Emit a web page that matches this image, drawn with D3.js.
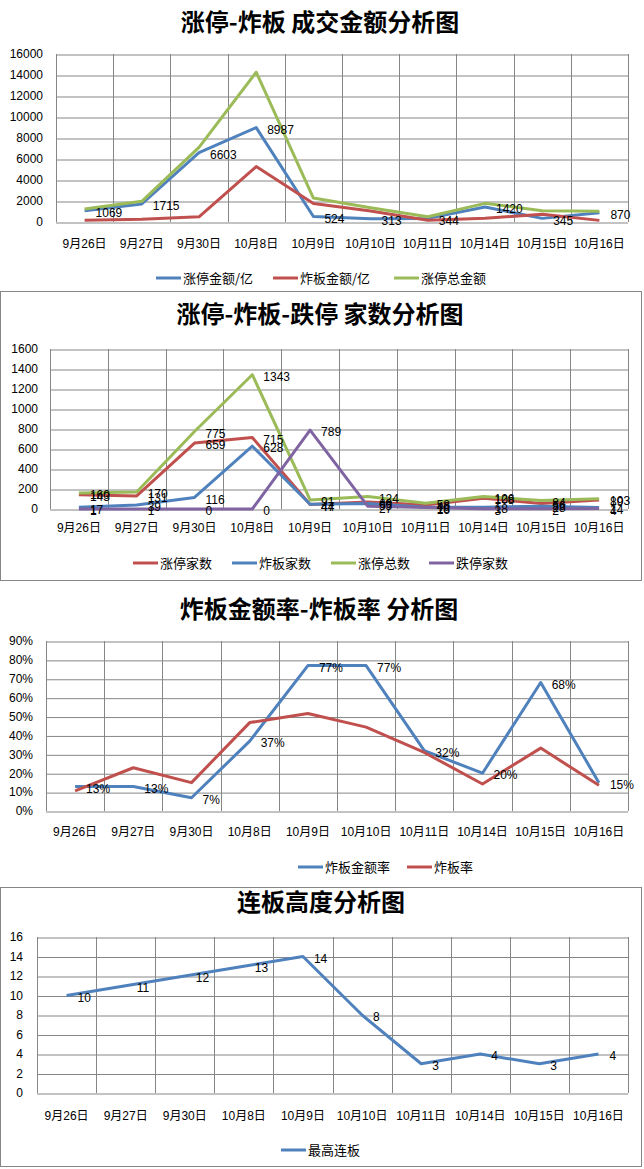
<!DOCTYPE html>
<html><head><meta charset="utf-8">
<script src="https://cdn.jsdelivr.net/npm/d3@7"></script>
<style>
body{margin:0;background:#fff;}
svg{display:block;}
text{font-family:"Liberation Sans","Noto Sans CJK SC",sans-serif;fill:#000;}
.title{font-family:"Noto Sans CJK SC",sans-serif;font-weight:bold;font-size:24px;}
</style></head>
<body>
<svg id="c" width="644" height="1169"></svg>
<script>
const categories = ["9月26日","9月27日","9月30日","10月8日","10月9日","10月10日","10月11日","10月14日","10月15日","10月16日"];

// Chart 1: 成交金额 (亿)
const ztAmount   = [1069, 1715, 6603, 8987, 524, 313, 344, 1420, 345, 870];
const zbAmount   = [160, 256, 497, 5278, 1754, 1047, 162, 355, 733, 154];
const ztTotalAmt = [1229, 1971, 7100, 14265, 2278, 1360, 506, 1775, 1078, 1024];
const amtTicks = [0,2000,4000,6000,8000,10000,12000,14000,16000];

// Chart 2: 家数
const ztCount    = [143, 131, 659, 715, 44, 69, 40, 108, 56, 89];
const zbCount    = [17, 39, 116, 628, 47, 55, 18, 18, 28, 14];
const ztTotalCnt = [160, 170, 775, 1343, 91, 124, 58, 126, 84, 103];
const dtCount    = [1, 1, 0, 0, 789, 27, 16, 3, 2, 4];
const cntTicks = [0,200,400,600,800,1000,1200,1400,1600];

// Chart 3: 比率 (%)
const zbAmtRate = [13, 13, 7, 37, 77, 77, 32, 20, 68, 15];
const zbRate    = [10.6, 22.9, 15.0, 46.8, 51.6, 44.4, 31.0, 14.3, 33.3, 13.6];
const rateTicks = [0,10,20,30,40,50,60,70,80,90];

// Chart 4: 最高连板
const maxBoard = [10, 11, 12, 13, 14, 8, 3, 4, 3, 4];
const boardTicks = [0,2,4,6,8,10,12,14,16];

const BLUE="#4F81BD", RED="#C0504D", GREEN="#9BBB59", PURPLE="#8064A2";
const GRID="#868686";
const svg = d3.select("#c");

function drawChart(o){
  const g = svg.append("g");
  g.append("text").attr("class","title").attr("x",o.titleX).attr("y",o.titleY)
    .attr("text-anchor","middle").text(o.title);
  const x = d3.scaleBand().domain(categories).range([o.left,o.right]).padding(0);
  const y = d3.scaleLinear().domain([0,o.max]).range([o.bottom,o.top]);
  const cx = c => x(c)+x.bandwidth()/2;
  // horizontal grid + y labels
  const ya = d3.axisLeft(y).tickValues(o.ticks).tickSize(-(o.right-o.left)).tickPadding(0)
    .tickFormat(o.tickFmt || (d=>d));
  const yg = g.append("g").attr("transform",`translate(${o.left},0)`).call(ya);
  yg.select(".domain").remove();
  yg.selectAll(".tick line").attr("stroke",GRID).attr("stroke-width",1)
    .attr("transform","translate(0,0.5)");
  yg.selectAll(".tick text").attr("x",o.yLabelX-o.left).attr("font-size",12)
    .style("font-family",'"Liberation Sans",sans-serif').attr("fill","#000");
  // vertical grid
  const bounds = categories.map(c=>x(c)).concat([o.right]);
  g.append("g").selectAll("line").data(bounds).join("line")
    .attr("x1",d=>Math.round(d)+0.5).attr("x2",d=>Math.round(d)+0.5)
    .attr("y1",o.top).attr("y2",o.bottom).attr("stroke",GRID).attr("stroke-width",1);
  // x labels
  const xa = d3.axisBottom(x).tickSize(0).tickPadding(0);
  const xg = g.append("g").attr("transform",`translate(0,${o.bottom})`).call(xa);
  xg.select(".domain").remove();
  xg.selectAll(".tick text").attr("y",o.xLabelDy).attr("dy","0.35em").attr("font-size",12)
    .style("font-family",'"Liberation Sans","Noto Sans CJK SC",sans-serif').attr("fill","#000");
  // lines
  o.series.forEach(s=>{
    const line = d3.line().x((d,i)=>cx(categories[i])).y(d=>y(d));
    g.append("path").datum(s.values).attr("d",line).attr("fill","none")
      .attr("stroke",s.color).attr("stroke-width",3).attr("stroke-linejoin","round");
  });
  // labels
  o.series.filter(s=>s.labels).forEach(s=>{
    g.append("g").selectAll("text").data(s.values).join("text")
      .attr("x",(d,i)=>cx(categories[i])+11).attr("y",d=>y(d)+2).attr("dy","0.35em")
      .attr("font-size",12).text(d=>s.fmt ? s.fmt(d) : d);
  });
  // legend
  o.series.forEach((s,i)=>{
    const lx = o.legendX[i];
    g.append("line").attr("x1",lx).attr("x2",lx+25).attr("y1",o.legendY).attr("y2",o.legendY)
      .attr("stroke",s.color).attr("stroke-width",3);
    g.append("text").attr("x",lx+27).attr("y",o.legendY).attr("dy","0.35em")
      .attr("font-size",13).style("font-family",'"Noto Sans CJK SC",sans-serif').text(s.name);
  });
}

// panel borders
svg.append("rect").attr("x",0.5).attr("y",291.5).attr("width",641).attr("height",289)
  .attr("fill","none").attr("stroke",GRID);
svg.append("rect").attr("x",0.5).attr("y",887.5).attr("width",641).attr("height",279)
  .attr("fill","none").attr("stroke",GRID);

drawChart({title:"涨停-炸板 成交金额分析图",titleX:320,titleY:31,
  left:56,right:628,top:54,bottom:222,max:16000,ticks:amtTicks,yLabelX:43,xLabelDy:22,
  legendY:278,legendX:[156,273,394],
  series:[
    {name:"涨停金额/亿",values:ztAmount,color:BLUE,labels:true},
    {name:"炸板金额/亿",values:zbAmount,color:RED},
    {name:"涨停总金额",values:ztTotalAmt,color:GREEN}
  ]});

drawChart({title:"涨停-炸板-跌停 家数分析图",titleX:320,titleY:323,
  left:50,right:628,top:349,bottom:509,max:1600,ticks:cntTicks,yLabelX:38,xLabelDy:19,
  legendY:563,legendX:[133,232,331,429],
  series:[
    {name:"涨停家数",values:ztCount,color:RED,labels:true},
    {name:"炸板家数",values:zbCount,color:BLUE,labels:true},
    {name:"涨停总数",values:ztTotalCnt,color:GREEN,labels:true},
    {name:"跌停家数",values:dtCount,color:PURPLE,labels:true}
  ]});

drawChart({title:"炸板金额率-炸板率 分析图",titleX:319,titleY:618,
  left:46,right:628,top:641,bottom:811,max:90,ticks:rateTicks,yLabelX:33,xLabelDy:21,
  tickFmt:d=>d+"%",
  legendY:867,legendX:[298,407],
  series:[
    {name:"炸板金额率",values:zbAmtRate,color:BLUE,labels:true,fmt:d=>Math.round(d)+"%"},
    {name:"炸板率",values:zbRate,color:RED}
  ]});

drawChart({title:"连板高度分析图",titleX:321,titleY:911,
  left:37,right:628,top:937,bottom:1093,max:16,ticks:boardTicks,yLabelX:23,xLabelDy:23,
  legendY:1150,legendX:[281],
  series:[
    {name:"最高连板",values:maxBoard,color:BLUE,labels:true}
  ]});
</script>
</body></html>
